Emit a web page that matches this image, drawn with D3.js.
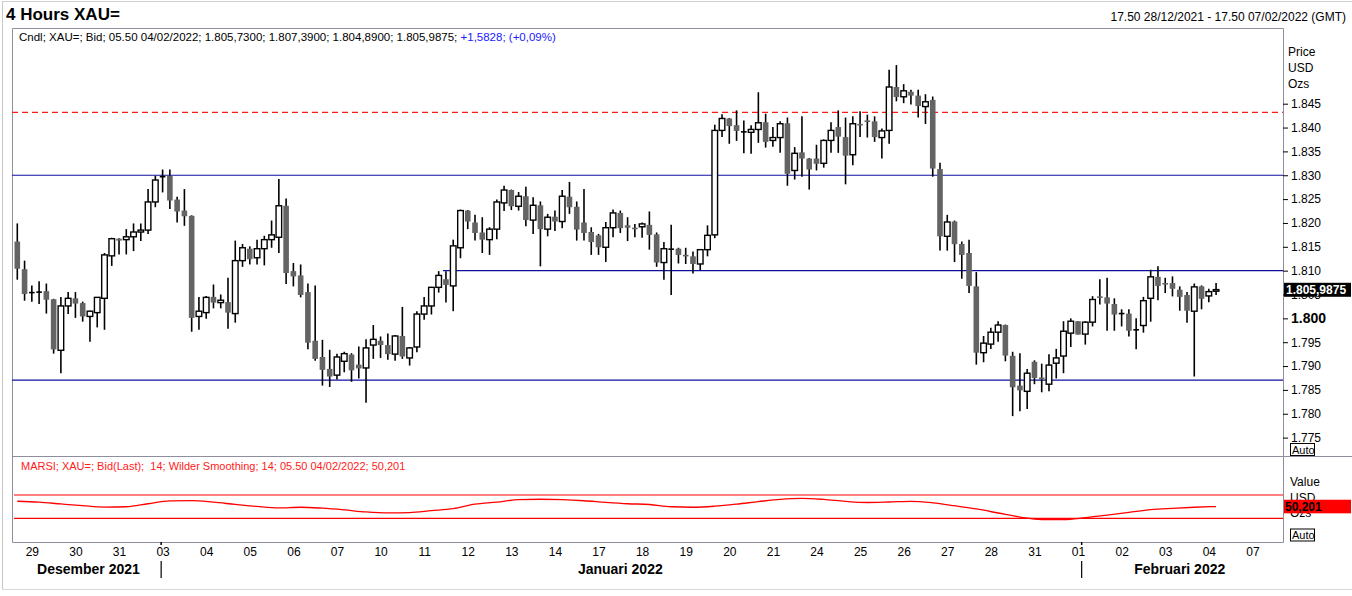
<!DOCTYPE html>
<html>
  <head>
    <meta charset="utf-8">
    <script src="https://d3js.org/d3.v7.min.js"></script>
    <title>4 Hours XAU=</title>
    <style>
      body { margin: 0; background: #fff; }
      text { font-family: "Liberation Sans", Arial, sans-serif; }
    </style>
  </head>
  <body>
    <div id="plot"></div>
    <script>

    // 4h candles, 28/12/2021 17.50 .. 04/02/2022 05.50
    const open = [1816.1,1810.3,1805.4,1805.5,1805.7,1804.0,1793.3,1802.6,1804.2,1803.2,
      1800.4,1801.2,1804.2,1813.1,1816.7,1816.5,1817.1,1818.1,1818.5,1824.4,
      1829.7,1829.9,1824.9,1822.6,1821.5,1800.4,1801.2,1804.5,1803.3,1803.4,
      1801.0,1812.1,1814.6,1812.7,1814.6,1816.5,1817.0,1823.6,1809.9,1809.0,
      1805.5,1795.3,1791.9,1789.4,1788.1,1791.0,1792.4,1790.3,1789.6,1794.4,
      1795.3,1794.4,1792.5,1796.3,1791.7,1794.0,1800.9,1802.6,1806.5,1808.2,
      1806.8,1814.8,1822.6,1820.1,1818.0,1816.5,1818.7,1824.2,1826.9,1823.5,
      1825.6,1820.6,1823.7,1818.7,1821.3,1820.3,1825.5,1823.4,1820.1,1818.1,
      1817.4,1814.9,1819.0,1822.1,1819.5,1819.0,1819.2,1819.6,1817.6,1811.7,
      1814.5,1814.6,1813.3,1813.0,1811.4,1814.4,1817.5,1839.4,1841.9,1840.5,
      1839.1,1839.0,1839.6,1841.1,1837.3,1837.9,1840.9,1831.0,1834.8,1833.5,
      1833.5,1832.5,1837.3,1840.1,1838.0,1834.3,1840.7,1841.45,1841.3,1837.9,
      1839.4,1848.5,1846.45,1847.5,1846.7,1844.4,1845.8,1831.3,1817.2,1820.3,
      1815.6,1813.7,1806.7,1792.8,1794.6,1797.1,1798.6,1792.15,1785.9,1784.7,
      1790.9,1787.6,1786.2,1790.6,1792.1,1796.9,1799.4,1796.7,1799.2,1804.6,
      1804.4,1803.0,1801.0,1801.0,1797.6,1798.5,1804.2,1808.7,1807.3,1807.4,
      1806.0,1804.9,1801.5,1806.7,1804.7,1805.73];
    const high = [1819.9,1812.1,1806.9,1807.8,1807.3,1804.1,1804.5,1805.5,1805.5,1803.5,
      1801.6,1804.4,1813.7,1816.9,1816.8,1818.7,1819.9,1819.9,1827.1,1829.9,
      1831.2,1831.2,1825.5,1827.1,1821.6,1804.5,1804.7,1807.1,1805.0,1808.5,
      1816.3,1815.6,1815.1,1816.5,1817.3,1820.5,1829.2,1825.1,1811.6,1811.3,
      1807.3,1806.9,1795.5,1793.4,1792.6,1793.0,1792.7,1794.1,1795.6,1798.6,
      1796.2,1796.8,1796.5,1802.4,1794.0,1801.5,1804.5,1806.6,1809.9,1809.9,
      1816.5,1822.8,1822.7,1821.7,1821.2,1819.1,1824.9,1827.8,1827.0,1826.5,
      1827.6,1825.4,1824.5,1821.9,1822.6,1826.9,1828.6,1824.5,1827.1,1819.1,
      1817.7,1820.2,1822.8,1822.6,1821.2,1819.8,1820.1,1822.4,1818.0,1816.0,
      1819.6,1814.8,1814.8,1814.0,1814.5,1819.5,1840.6,1842.8,1842.0,1843.6,
      1841.5,1840.5,1847.4,1842.9,1840.1,1841.3,1842.1,1835.9,1842.35,1833.6,
      1836.4,1837.5,1841.1,1843.6,1842.1,1842.35,1843.4,1842.7,1842.35,1839.8,
      1852.1,1853.1,1849.1,1847.9,1847.9,1847.0,1846.5,1832.6,1821.7,1820.5,
      1816.1,1816.5,1809.7,1796.3,1798.05,1799.4,1798.7,1793.0,1792.7,1789.4,
      1791.2,1790.5,1792.5,1793.6,1799.4,1800.0,1799.4,1799.4,1804.65,1808.2,
      1808.5,1804.2,1801.9,1801.9,1800.0,1804.5,1810.2,1810.9,1808.5,1808.8,
      1806.7,1805.5,1807.3,1806.9,1806.2,1807.39];
    const low = [1808.1,1803.7,1803.5,1803.0,1801.0,1792.6,1788.5,1800.9,1800.1,1799.3,
      1795.1,1798.1,1797.6,1811.0,1813.4,1813.4,1814.1,1816.2,1817.7,1823.3,
      1826.4,1822.9,1820.1,1819.4,1797.2,1797.6,1799.9,1802.1,1802.1,1797.8,
      1799.1,1810.8,1811.3,1811.3,1811.1,1814.8,1813.7,1807.2,1806.7,1804.4,
      1793.5,1791.1,1785.9,1785.6,1787.2,1788.7,1786.7,1787.4,1782.3,1791.5,
      1791.7,1791.3,1791.1,1791.5,1790.1,1792.9,1799.7,1800.8,1805.4,1803.3,
      1801.5,1812.6,1818.7,1816.3,1813.7,1813.3,1816.6,1822.5,1822.7,1822.6,
      1819.3,1817.7,1810.9,1817.2,1818.3,1818.9,1821.9,1816.3,1816.3,1813.3,
      1813.3,1811.8,1817.0,1817.9,1816.2,1817.0,1816.9,1814.4,1810.8,1808.1,
      1804.9,1811.5,1811.4,1809.4,1810.1,1813.0,1816.8,1838.0,1836.6,1837.2,
      1834.6,1834.5,1836.8,1835.8,1836.0,1834.7,1827.8,1829.1,1829.7,1827.0,
      1831.0,1831.6,1834.7,1834.7,1828.1,1832.1,1838.0,1837.9,1837.0,1833.5,
      1836.6,1845.5,1845.1,1844.85,1842.1,1840.75,1829.7,1814.2,1814.2,1811.8,
      1808.3,1805.3,1790.3,1790.8,1793.6,1795.1,1791.0,1779.5,1780.5,1781.0,
      1786.2,1784.5,1784.7,1787.4,1788.5,1794.0,1796.6,1794.5,1798.3,1802.9,
      1797.4,1797.4,1798.3,1796.2,1793.5,1797.0,1799.3,1803.8,1805.3,1804.6,
      1801.6,1799.1,1787.8,1801.9,1803.4,1804.89];
    const close = [1810.4,1805.1,1805.4,1805.5,1803.9,1793.5,1802.6,1804.2,1803.1,1800.4,
      1801.5,1804.4,1813.3,1816.7,1816.3,1817.1,1818.1,1818.5,1824.4,1829.0,
      1829.7,1824.7,1822.4,1821.4,1800.1,1801.5,1804.4,1803.3,1803.8,1801.2,
      1812.1,1814.8,1812.4,1814.6,1816.5,1817.5,1823.6,1809.5,1808.8,1804.9,
      1794.9,1791.5,1789.2,1787.8,1791.9,1792.6,1789.1,1789.5,1793.8,1795.6,
      1794.4,1792.5,1796.3,1792.0,1793.8,1800.9,1802.6,1806.5,1809.0,1807.0,
      1815.2,1822.6,1820.3,1817.9,1816.5,1818.7,1824.4,1826.9,1823.5,1825.6,
      1820.6,1823.7,1818.7,1821.2,1820.3,1825.6,1823.3,1818.6,1817.9,1816.0,
      1814.9,1819.0,1822.1,1818.9,1819.0,1818.7,1819.8,1817.5,1811.7,1814.6,
      1814.5,1813.3,1813.0,1811.4,1814.4,1817.4,1839.4,1841.9,1840.3,1839.3,
      1839.1,1839.6,1841.0,1837.0,1837.9,1840.8,1830.3,1834.6,1833.5,1831.2,
      1832.4,1837.3,1839.4,1838.1,1834.1,1840.8,1840.5,1841.2,1838.0,1839.3,
      1848.5,1846.4,1847.7,1846.7,1844.5,1845.4,1831.4,1817.2,1820.2,1815.55,
      1813.3,1806.8,1792.8,1794.8,1797.1,1798.6,1792.2,1785.55,1784.9,1788.5,
      1787.5,1787.2,1790.2,1791.7,1797.3,1799.4,1796.6,1799.2,1803.95,1804.3,
      1803.1,1800.8,1801.0,1797.4,1797.6,1803.7,1808.7,1806.8,1807.2,1806.2,
      1804.5,1801.6,1806.6,1804.1,1805.6,1805.9875];

    // MARSI 14, one value every third candle
    const rsiStep = 3;
    const rsi = [59.3,57.8,54.6,51.6,49.2,49.8,55,60,60.3,57.6,
      53.8,50.3,47.9,49,47.3,44.4,40.9,39.2,39.7,43.1,
      46.6,54.2,57.6,62,62.7,62,60.1,57.3,55,53.7,
      49.8,49,50.8,54.3,58.6,62.5,64.3,62.4,59,57.1,
      58,59.2,56.6,51.6,46,39.1,32.1,27.8,27.7,31.1,
      35.6,40.2,44.9,47.2,49,50.2];

    // x axis: first candle of each trading day
    const dayIdx = [2,8,14,20,26,32,38,44,50,56,62,68,74,80,86,92,98,104,110,116,122,128,134,140,146,152,158,164,170];
    const dayLabels = ["29","30","31","03","04","05","06","07","10","11","12","13","14","17","18","19","20","21","24","25","26","27","28","31","01","02","03","04","07"];
    const monthLabels = ["Desember 2021","Januari 2022","Februari 2022"];
    const monthCenter = [9.8, 83, 160];   // candle index under the label centre
    const monthBreaks = [19.8, 146.5];

    const priceTicks = [1775,1780,1785,1790,1795,1800,1805,1810,1815,1820,1825,1830,1835,1840,1845];
    const supportLevels = [1830, 1787.07];
    const midLevel = 1810;
    const resistance = 1843.2;
    const rsiBands = [70, 30];
    const lastPrice = 1805.9875, lastRsi = 50.201;

    const W = 1352, H = 596;
    const L = 12, R = 1283, T = 28, MB = 456, RB = 542;
    const border = "#8e8e9c";
    const loc = d3.formatLocale({decimal: ",", thousands: ".", grouping: [3], currency: ["", ""]});

    const svg = d3.select("#plot").append("svg")
      .attr("width", W).attr("height", H);

    const x = d3.scaleLinear().domain([0, 170]).range([17.3, 1252.4]);
    const y = d3.scaleLinear().domain([1775, 1845]).range([437.6, 103.7]);
    const yr = d3.scaleLinear().domain([30, 70]).range([518.3, 495]);

    // frame
    svg.append("line").attr("x1", 2.5).attr("x2", 2.5).attr("y1", 2).attr("y2", 590).attr("stroke", "#c8c8c8");
    svg.append("line").attr("x1", 2).attr("x2", W).attr("y1", 1.5).attr("y2", 1.5).attr("stroke", "#d0d0d0");
    svg.append("line").attr("x1", 2).attr("x2", W).attr("y1", 589.5).attr("y2", 589.5).attr("stroke", "#d8d8d8");
    svg.append("path")
      .attr("d", `M${L + 0.5},${RB + 0.5}V${T + 0.5}H${R + 0.5}V${RB + 0.5}H${L + 0.5}M${L},${MB + 0.5}H${W}`)
      .attr("fill", "none").attr("stroke", border);

    // header
    svg.append("text").attr("x", 6).attr("y", 20).text("4 Hours XAU=")
      .style("font-size", "17px").style("font-weight", "bold");
    svg.append("text").attr("x", W - 6).attr("y", 21).attr("text-anchor", "end")
      .text("17.50 28/12/2021 - 17.50 07/02/2022 (GMT)").style("font-size", "12px");
    const info = svg.append("text").attr("x", 19).attr("y", 41).style("font-size", "11.5px");
    info.append("tspan").text("Cndl; XAU=; Bid; 05.50 04/02/2022; 1.805,7300; 1.807,3900; 1.804,8900; 1.805,9875; ");
    info.append("tspan").attr("fill", "#1a1aff").text("+1,5828; (+0,09%)");

    // level lines
    svg.selectAll(".lvl").data(supportLevels).enter().append("line")
      .attr("x1", L).attr("x2", R)
      .attr("y1", d => y(d)).attr("y2", d => y(d))
      .attr("stroke", "#1010a0").attr("stroke-width", 1.2);
    svg.append("line").attr("x1", 443).attr("x2", R)
      .attr("y1", y(midLevel)).attr("y2", y(midLevel))
      .attr("stroke", "#1010a0").attr("stroke-width", 1.2);
    svg.append("line").attr("x1", L).attr("x2", R)
      .attr("y1", y(resistance)).attr("y2", y(resistance))
      .attr("stroke", "#ff1a1a").attr("stroke-width", 1.2).style("stroke-dasharray", "6 4");

    // candles
    const idx = d3.range(open.length);
    const bw = 5.6;
    const g = svg.append("g");
    g.selectAll(".wick").data(idx).enter().append("line")
      .attr("x1", i => x(i)).attr("x2", i => x(i))
      .attr("y1", i => y(high[i])).attr("y2", i => y(low[i]))
      .attr("stroke", "#000").attr("stroke-width", 1.6);
    g.selectAll(".body").data(idx).enter().append("rect")
      .attr("x", i => x(i) - bw / 2)
      .attr("width", bw)
      .attr("y", i => {
        const h = Math.abs(y(open[i]) - y(close[i]));
        return Math.min(y(open[i]), y(close[i])) - (h < 1.6 ? (1.6 - h) / 2 : 0);
      })
      .attr("height", i => Math.max(1.6, Math.abs(y(open[i]) - y(close[i]))))
      .attr("fill", i => close[i] === open[i] ? "#000" : close[i] > open[i] ? "#fff" : "#646464")
      .attr("stroke", i => close[i] > open[i] ? "#000" : "none")
      .attr("stroke-width", 1.4);

    // price axis
    const yAxis = svg.append("g").attr("transform", `translate(${R},0)`)
      .call(d3.axisRight(y).tickValues(priceTicks).tickSize(5).tickPadding(3)
        .tickFormat(loc.format(",.0f")));
    yAxis.select(".domain").remove();
    yAxis.selectAll("text").style("font-family", "Liberation Sans, Arial, sans-serif")
      .style("font-size", d => d === 1800 ? "14px" : "12px")
      .style("font-weight", d => d === 1800 ? "bold" : "normal");
    ["Price", "USD", "Ozs"].forEach((t, i) =>
      svg.append("text").attr("x", 1288).attr("y", 56 + i * 16).text(t).style("font-size", "12px"));

    svg.append("rect").attr("x", R + 1).attr("y", y(lastPrice) - 7).attr("width", W - R - 2).attr("height", 14).attr("fill", "#000");
    svg.append("text").attr("x", R + 3).attr("y", y(lastPrice) + 4.5)
      .text(loc.format(",.4f")(lastPrice)).attr("fill", "#fff")
      .style("font-size", "12px").style("font-weight", "bold");

    function autoBox(yy) {
      svg.append("rect").attr("x", 1290.5).attr("y", yy + 0.5).attr("width", 24).attr("height", 12)
        .attr("fill", "#fff").attr("stroke", "#000");
      svg.append("text").attr("x", 1292).attr("y", yy + 10.5).text("Auto").style("font-size", "11px");
    }
    autoBox(443);

    // RSI panel
    svg.append("text").attr("x", 21).attr("y", 470).attr("fill", "#ff1a1a").style("font-size", "11px")
      .style("white-space", "pre")
      .text("MARSI; XAU=; Bid(Last);  14; Wilder Smoothing; 14; 05.50 04/02/2022; 50,201");
    svg.selectAll(".band").data(rsiBands).enter().append("line")
      .attr("x1", 14).attr("x2", R)
      .attr("y1", d => yr(d)).attr("y2", d => yr(d))
      .attr("stroke", "#ff0000").attr("stroke-width", 1.2);
    svg.append("path").datum(rsi)
      .attr("d", d3.line().x((d, i) => x(i * rsiStep)).y(d => yr(d)).curve(d3.curveMonotoneX))
      .attr("fill", "none").attr("stroke", "#ff0000").attr("stroke-width", 1.3);

    ["Value", "USD", "Ozs"].forEach((t, i) =>
      svg.append("text").attr("x", 1290).attr("y", 486 + i * 15.5).text(t).style("font-size", "12px"));
    svg.append("rect").attr("x", R + 1).attr("y", yr(lastRsi) - 6.8).attr("width", W - R - 2).attr("height", 13.6).attr("fill", "#ff0000");
    svg.append("text").attr("x", R + 2).attr("y", yr(lastRsi) + 4.5)
      .text(loc.format(",.3f")(lastRsi)).attr("fill", "#000")
      .style("font-size", "12px").style("font-weight", "bold");
    autoBox(528.5);

    // time axis
    const xAxis = svg.append("g").attr("transform", `translate(0,${RB})`)
      .call(d3.axisBottom(x).tickValues(dayIdx).tickSize(0).tickPadding(5)
        .tickFormat((d, i) => dayLabels[i]));
    xAxis.select(".domain").remove();
    xAxis.selectAll("text").style("font-family", "Liberation Sans, Arial, sans-serif").style("font-size", "12px").attr("fill", "#000");

    svg.selectAll(".mlab").data(monthLabels).enter().append("text")
      .attr("x", (d, i) => x(monthCenter[i])).attr("y", 574)
      .attr("text-anchor", "middle").text(d => d)
      .style("font-size", "14px").style("font-weight", "bold");
    svg.selectAll(".mbrk").data(monthBreaks).enter().append("line")
      .attr("x1", d => x(d)).attr("x2", d => x(d))
      .attr("y1", 561).attr("y2", 578)
      .attr("stroke", "#000").attr("stroke-width", 1.2);
    svg.selectAll(".mtick").data(monthBreaks).enter().append("line")
      .attr("x1", d => x(d)).attr("x2", d => x(d))
      .attr("y1", RB).attr("y2", RB + 3)
      .attr("stroke", "#000").attr("stroke-width", 1.5);

    </script>
  </body>
</html>
